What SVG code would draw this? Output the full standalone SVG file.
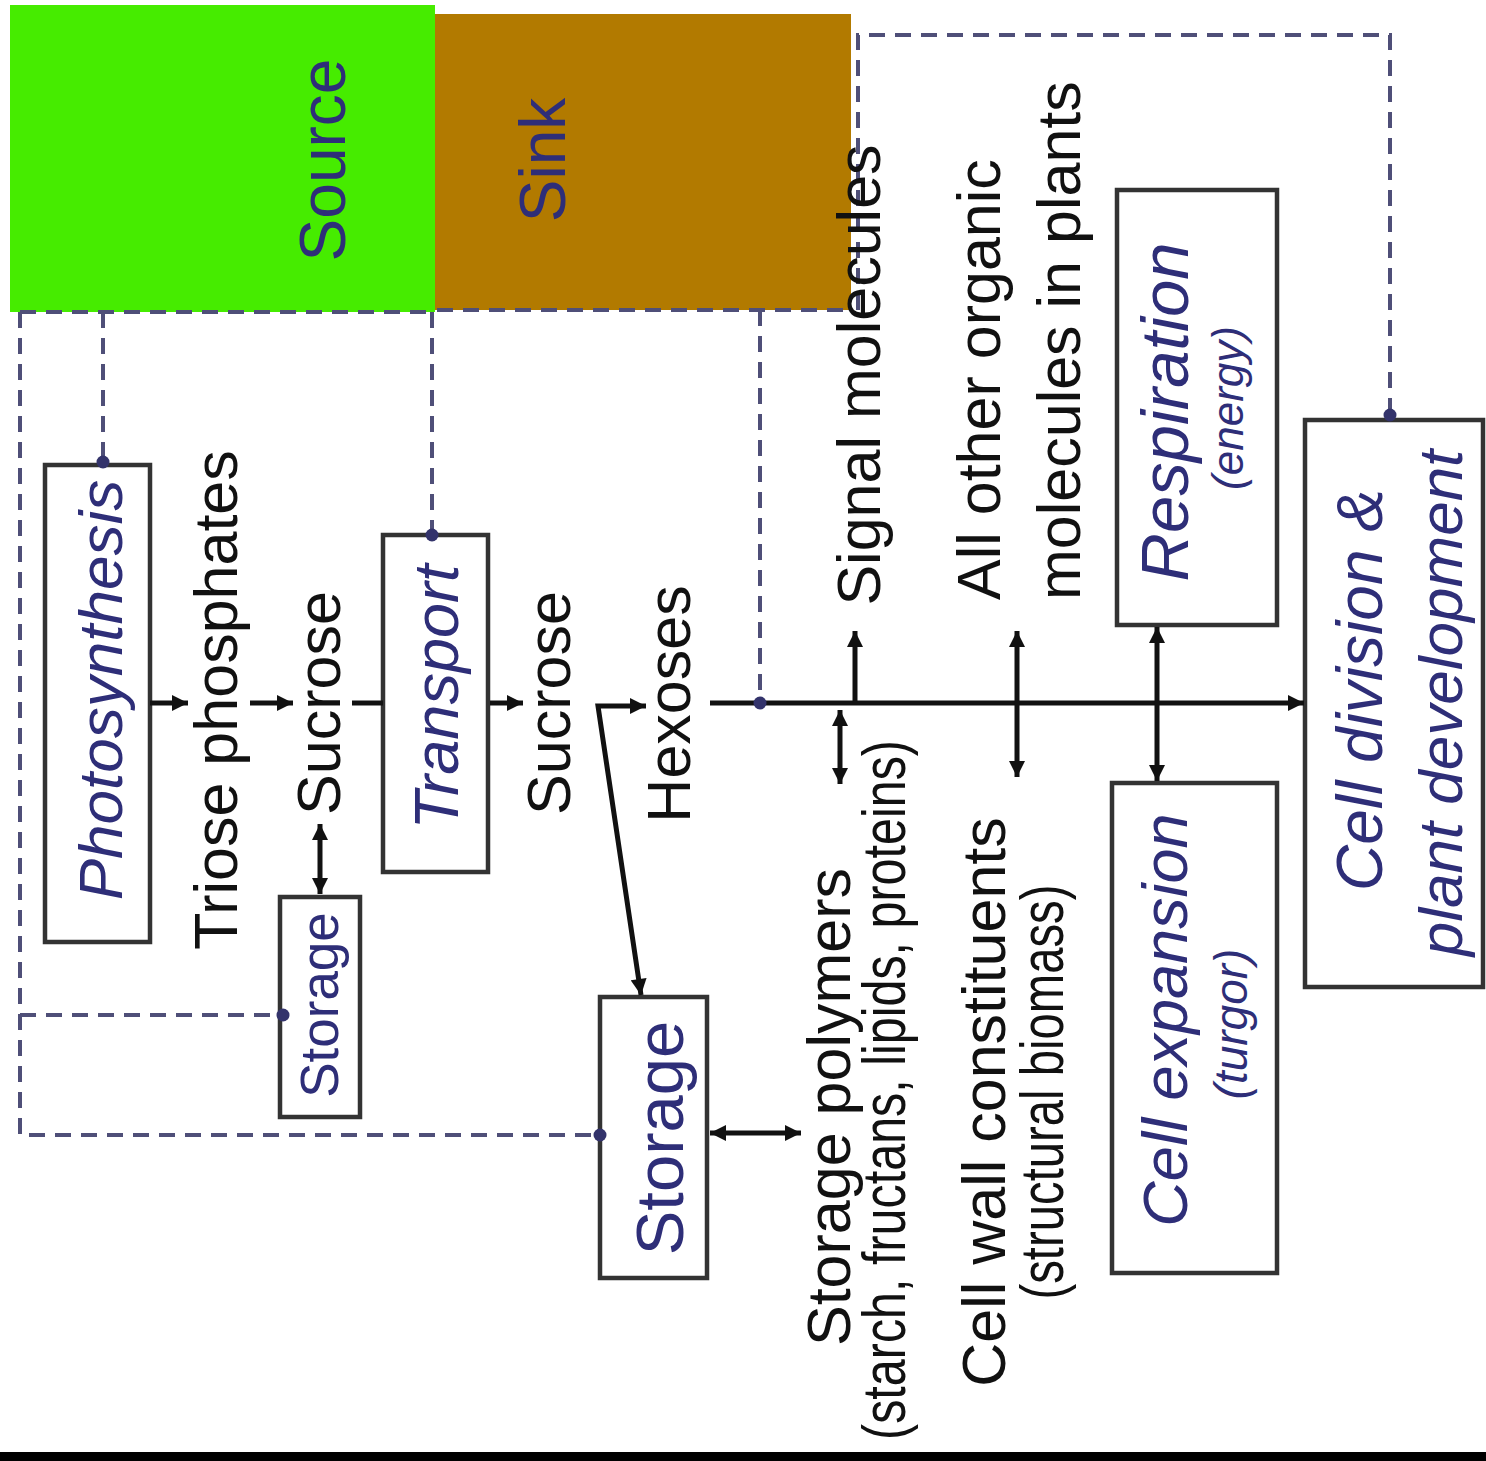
<svg xmlns="http://www.w3.org/2000/svg" width="1486" height="1461" viewBox="0 0 1486 1461">
<style>
text{font-family:"Liberation Sans",Arial,sans-serif;}
.lbl{fill:#111;font-size:61px;}
.nav{fill:#2e2e78;}
.it{font-style:italic;}
.box{fill:#fff;stroke:#333;stroke-width:4.5;}
.ln{stroke:#111;stroke-width:5;fill:none;}
.dash{stroke:#4f4f78;stroke-width:4;stroke-dasharray:16 10;fill:none;}
.dot{fill:#33336b;}
</style>
<defs>
<marker id="ah" viewBox="0 0 10 10" refX="10" refY="5" markerWidth="18" markerHeight="16" markerUnits="userSpaceOnUse" orient="auto-start-reverse">
<path d="M0,0 L10,5 L0,10 z" fill="#111"/>
</marker>
</defs>
<rect width="1486" height="1461" fill="#fff"/>
<g id="source"><rect x="10" y="5" width="425" height="307" fill="#46ec00"/>
<text class="nav" font-size="64" text-anchor="middle" transform="translate(345,160) rotate(-90)">Source</text></g>
<g id="sink"><rect x="435" y="14" width="416" height="296" fill="#b27a00"/>
<text class="nav" font-size="64" text-anchor="middle" transform="translate(565,160) rotate(-90)">Sink</text></g>
<g id="dashed">
<path class="dash" d="M20,312 H432 M20,312 V1135 H600 M20,1015 H283 M103,312 V462 M432,312 V535 M437,310 H850 M760,310 V703 M858,310 V35 H1390 V415"/>
</g>
<g id="photosynthesis"><rect class="box" x="45" y="465" width="105" height="477"/>
<text class="nav it" font-size="62" text-anchor="middle" transform="translate(122,690) rotate(-90)">Photosynthesis</text></g>
<g id="triose"><text class="lbl" text-anchor="middle" transform="translate(237,700) rotate(-90)">Triose phosphates</text></g>
<g id="sucrose1"><text class="lbl" text-anchor="middle" transform="translate(340,703) rotate(-90)">Sucrose</text></g>
<g id="storage1"><rect class="box" x="280" y="897" width="80" height="220"/>
<text class="nav" font-size="53" text-anchor="middle" transform="translate(338,1005) rotate(-90)">Storage</text></g>
<g id="transport"><rect class="box" x="383" y="535" width="105" height="337"/>
<text class="nav it" font-size="63" text-anchor="middle" transform="translate(458,697) rotate(-90)">Transport</text></g>
<g id="sucrose2"><text class="lbl" text-anchor="middle" transform="translate(570,703) rotate(-90)">Sucrose</text></g>
<g id="hexoses"><text class="lbl" text-anchor="middle" transform="translate(690,704) rotate(-90)">Hexoses</text></g>
<g id="storage2"><rect class="box" x="600" y="997" width="107" height="281"/>
<text class="nav" font-size="67" text-anchor="middle" transform="translate(683,1138) rotate(-90)">Storage</text></g>
<g id="signal"><text class="lbl" font-size="62" text-anchor="middle" transform="translate(880,375) rotate(-90)">Signal molecules</text></g>
<g id="storagepolymers"><text class="lbl" text-anchor="middle" transform="translate(850,1107) rotate(-90)">Storage polymers</text>
<text class="lbl" font-size="44" text-anchor="middle" textLength="700" lengthAdjust="spacingAndGlyphs" transform="translate(905,1090) rotate(-90)">(starch, fructans, lipids, proteins)</text></g>
<g id="cellwall"><text class="lbl" text-anchor="middle" transform="translate(1005,1102) rotate(-90)">Cell wall constituents</text>
<text class="lbl" font-size="44" text-anchor="middle" textLength="415" lengthAdjust="spacingAndGlyphs" transform="translate(1063,1092) rotate(-90)">(structural biomass)</text></g>
<g id="organic"><text class="lbl" font-size="62" transform="translate(1000,600) rotate(-90)">All other organic</text>
<text class="lbl" font-size="62" transform="translate(1080,600) rotate(-90)">molecules in plants</text></g>
<g id="respiration"><rect class="box" x="1117" y="190" width="160" height="435"/>
<text class="nav it" font-size="67" text-anchor="middle" transform="translate(1188,412) rotate(-90)">Respiration</text>
<text class="nav it" font-size="44" text-anchor="middle" transform="translate(1243,408) rotate(-90)">(energy)</text></g>
<g id="cellexpansion"><rect class="box" x="1112" y="783" width="165" height="490"/>
<text class="nav it" font-size="63" text-anchor="middle" transform="translate(1187,1020) rotate(-90)">Cell expansion</text>
<text class="nav it" font-size="46" text-anchor="middle" transform="translate(1247,1024) rotate(-90)">(turgor)</text></g>
<g id="celldivision"><rect class="box" x="1305" y="420" width="178" height="567"/>
<text class="nav it" font-size="64" text-anchor="middle" transform="translate(1382,690) rotate(-90)">Cell division &amp;</text>
<text class="nav it" font-size="62" text-anchor="middle" transform="translate(1462,703) rotate(-90)">plant development</text></g>
<g id="connectors">
<line class="ln" x1="150" y1="703" x2="188" y2="703" marker-end="url(#ah)"/>
<line class="ln" x1="250" y1="703" x2="293" y2="703" marker-end="url(#ah)"/>
<line class="ln" x1="352" y1="703" x2="383" y2="703" stroke-width="8"/>
<line class="ln" x1="490" y1="703" x2="523" y2="703" marker-end="url(#ah)"/>
<polyline class="ln" points="641,995 598,706 646,706" marker-start="url(#ah)" marker-end="url(#ah)"/>
<line class="ln" x1="320" y1="824" x2="320" y2="894" marker-start="url(#ah)" marker-end="url(#ah)"/>
<line class="ln" x1="710" y1="1133" x2="801" y2="1133" marker-start="url(#ah)" marker-end="url(#ah)"/>
<line class="ln" x1="710" y1="703" x2="1304" y2="703" stroke-width="6" marker-end="url(#ah)"/>
<line class="ln" x1="855" y1="703" x2="855" y2="631" marker-end="url(#ah)"/>
<line class="ln" x1="840" y1="710" x2="840" y2="784" marker-start="url(#ah)" marker-end="url(#ah)"/>
<line class="ln" x1="1017" y1="631" x2="1017" y2="777" marker-start="url(#ah)" marker-end="url(#ah)"/>
<line class="ln" x1="1157" y1="627" x2="1157" y2="781" marker-start="url(#ah)" marker-end="url(#ah)"/>
</g>
<g id="dots">
<circle class="dot" cx="103" cy="462" r="6.5"/>
<circle class="dot" cx="432" cy="535" r="6.5"/>
<circle class="dot" cx="283" cy="1015" r="6.5"/>
<circle class="dot" cx="600" cy="1135" r="6.5"/>
<circle class="dot" cx="760" cy="703" r="6.5"/>
<circle class="dot" cx="1390" cy="415" r="6.5"/>
</g>
<rect x="0" y="1452" width="1486" height="9" fill="#000"/>
</svg>
